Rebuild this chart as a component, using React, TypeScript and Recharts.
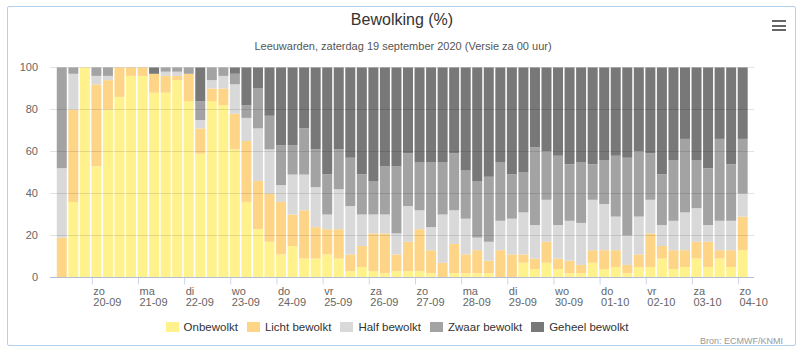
import React from "react";
import { Bar, BarChart, CartesianGrid, XAxis, YAxis } from "recharts";

// 6-hourly forecast, first bar = za 19-09 08:00 (local), 60 bars
const onbewolkt = [0, 36, 100, 53, 80, 86, 96, 96, 88, 88, 94, 84, 59, 84, 82, 61, 36, 23, 17, 11, 15, 9, 9, 11, 9, 3, 5, 3, 2, 3, 3, 3, 2, 0, 2, 2, 2, 2, 0, 0, 7, 4, 7, 4, 2, 2, 7, 4, 5, 2, 5, 5, 9, 4, 5, 9, 5, 9, 5, 13];
const lichtBewolkt = [19, 44, 0, 39, 14, 14, 4, 4, 9, 8, 2, 13, 12, 6, 8, 17, 29, 23, 23, 25, 15, 23, 15, 12, 14, 8, 10, 18, 19, 8, 14, 20, 11, 7, 14, 9, 11, 6, 13, 11, 4, 5, 10, 5, 6, 4, 6, 9, 8, 4, 6, 16, 6, 9, 8, 8, 12, 4, 8, 16];
const halfBewolkt = [33, 17, 0, 4, 2, 0, 0, 0, 0, 2, 2, 0, 4, 4, 6, 14, 11, 25, 21, 8, 19, 17, 19, 7, 19, 23, 15, 9, 9, 10, 17, 9, 11, 23, 16, 17, 6, 9, 14, 17, 20, 16, 20, 16, 19, 20, 24, 22, 16, 14, 18, 16, 10, 14, 18, 16, 8, 14, 14, 11];
const zwaarBewolkt = [48, 3, 0, 4, 4, 0, 0, 0, 0, 2, 2, 3, 9, 6, 4, 5, 6, 19, 16, 19, 14, 22, 18, 19, 19, 23, 19, 16, 23, 32, 25, 23, 31, 25, 27, 23, 27, 31, 28, 21, 19, 37, 23, 33, 27, 29, 17, 21, 29, 37, 31, 22, 24, 29, 35, 23, 27, 39, 27, 26];
const geheelBewolkt = [0, 0, 0, 0, 0, 0, 0, 0, 3, 0, 0, 0, 16, 0, 0, 3, 18, 10, 23, 37, 37, 29, 39, 51, 39, 43, 51, 54, 47, 47, 41, 45, 45, 45, 41, 49, 54, 52, 45, 51, 50, 38, 40, 42, 46, 45, 46, 44, 42, 43, 40, 41, 51, 44, 34, 44, 48, 34, 46, 34];

const dayNames = ["zo", "ma", "di", "wo", "do", "vr", "za", "zo", "ma", "di", "wo", "do", "vr", "za", "zo"];
const dates = ["20-09", "21-09", "22-09", "23-09", "24-09", "25-09", "26-09", "27-09", "28-09", "29-09", "30-09", "01-10", "02-10", "03-10", "04-10"];
const yTicks = [0, 20, 40, 60, 80, 100];

const series = [
  { key: "onbewolkt", name: "Onbewolkt", color: "#fff28c" },
  { key: "licht", name: "Licht bewolkt", color: "#fed587" },
  { key: "half", name: "Half bewolkt", color: "#d9d9d9" },
  { key: "zwaar", name: "Zwaar bewolkt", color: "#a3a3a3" },
  { key: "geheel", name: "Geheel bewolkt", color: "#787878" }
];

const data = onbewolkt.map((v, i) => ({
  i,
  onbewolkt: v,
  licht: lichtBewolkt[i],
  half: halfBewolkt[i],
  zwaar: zwaarBewolkt[i],
  geheel: geheelBewolkt[i]
}));

// bars are 6h apart, midnight falls 2h before the 4th bar
const firstMidnight = 3 - 1 / 3;
const dayTicks = dates.map((_, d) => firstMidnight + d * 4);

const font = '"Liberation Sans", Arial, sans-serif';

function DayTick(props: any) {
  const { x, y, payload } = props;
  const d = Math.round((payload.value - firstMidnight) / 4);
  return (
    <text x={x + 1} y={y} fill="#666" fontSize={11} fontFamily={font} textAnchor="start">
      <tspan x={x + 1} dy={10.5}>{dayNames[d]}</tspan>
      <tspan x={x + 1} dy={11}>{dates[d]}</tspan>
    </text>
  );
}

export default function App() {
  return (
    <div style={{ position: "absolute", left: 0, top: 0, width: 800, height: 351, background: "#fff", fontFamily: font }}>
      <div
        style={{
          position: "absolute",
          left: 7,
          top: 6,
          width: 787,
          height: 338,
          border: "1px solid #b3cfee",
          borderRadius: 2
        }}
      />
      <div style={{ position: "absolute", top: 11, left: 0, width: 804, textAlign: "center", fontSize: 16, color: "#333" }}>
        Bewolking (%)
      </div>
      <div style={{ position: "absolute", top: 40, left: 0, width: 806, textAlign: "center", fontSize: 11, color: "#555" }}>
        Leeuwarden, zaterdag 19 september 2020 (Versie za 00 uur)
      </div>
      {[0, 1, 2].map((k) => (
        <div key={k} style={{ position: "absolute", left: 772, top: 20 + k * 4.5, width: 14, height: 2, background: "#666" }} />
      ))}

      <BarChart
        width={800}
        height={351}
        data={data}
        margin={{ top: 67.5, right: 0, bottom: 43.5, left: 0 }}
        style={{ position: "absolute", left: 0, top: 0 }}
      >
        <XAxis
          type="number"
          dataKey="i"
          domain={[-1, 60]}
          ticks={dayTicks}
          interval={0}
          allowDataOverflow
          height={30}
          stroke="#ccd6eb"
          tickSize={7}
          tickMargin={0}
          tick={<DayTick />}
        />
        <YAxis
          yAxisId="left"
          width={50}
          domain={[0, 100]}
          ticks={yTicks}
          axisLine={false}
          tickLine={false}
          tickSize={0}
          tickMargin={12}
          tick={{ fill: "#666", fontSize: 11, fontFamily: font }}
        />
        <YAxis
          yAxisId="right"
          orientation="right"
          width={46}
          domain={[0, 100]}
          ticks={yTicks}
          axisLine={false}
          tickLine={false}
          tickSize={0}
          tickMargin={13}
          tick={{ fill: "#666", fontSize: 11, fontFamily: font, textAnchor: "start" }}
        />
        {series.map((s) => (
          <Bar key={s.key} yAxisId="left" dataKey={s.key} name={s.name} stackId="a" fill={s.color} barSize={10} isAnimationActive={false} />
        ))}
        <CartesianGrid yAxisId="left" vertical={false} stroke="rgba(0,0,0,0.11)" horizontalValues={yTicks} zIndex={1000} />
      </BarChart>

      <div style={{ position: "absolute", top: 321, left: 0, width: 803, display: "flex", justifyContent: "center", alignItems: "center", fontSize: 11.5, color: "#333" }}>
        {series.map((s) => (
          <div key={s.key} style={{ display: "flex", alignItems: "center", marginRight: 9 }}>
            <span style={{ display: "inline-block", width: 13, height: 10, background: s.color, marginRight: 5 }} />
            <span>{s.name}</span>
          </div>
        ))}
      </div>
      <div style={{ position: "absolute", top: 336, right: 17, fontSize: 9, color: "#999" }}>Bron: ECMWF/KNMI</div>
    </div>
  );
}
